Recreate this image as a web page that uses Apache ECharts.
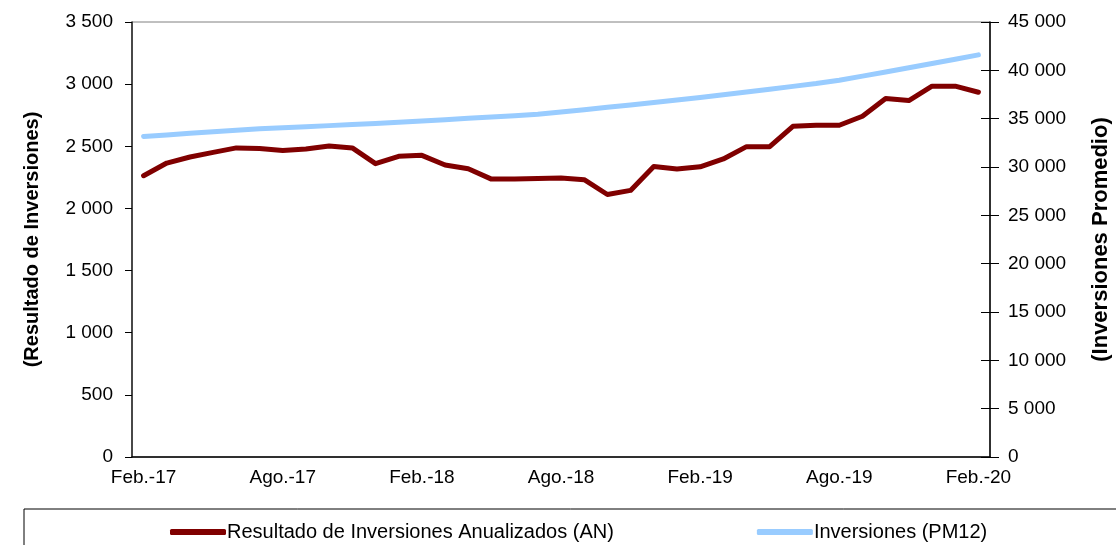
<!DOCTYPE html>
<html>
<head>
<meta charset="utf-8">
<script src="https://cdn.jsdelivr.net/npm/echarts@6/dist/echarts.min.js"></script>
<style>
  html, body { margin: 0; padding: 0; background: #fff; }
  #chart { width: 1116px; height: 545px; }
</style>
</head>
<body>
<div id="chart"></div>
<script>
// meses (Feb.-17 .. Feb.-20)
var categories = [
  'Feb.-17', 'Mar.-17', 'Abr.-17', 'May.-17', 'Jun.-17', 'Jul.-17', 'Ago.-17', 'Sep.-17', 'Oct.-17', 'Nov.-17', 'Dic.-17', 'Ene.-18',
  'Feb.-18', 'Mar.-18', 'Abr.-18', 'May.-18', 'Jun.-18', 'Jul.-18', 'Ago.-18', 'Sep.-18', 'Oct.-18', 'Nov.-18', 'Dic.-18', 'Ene.-19',
  'Feb.-19', 'Mar.-19', 'Abr.-19', 'May.-19', 'Jun.-19', 'Jul.-19', 'Ago.-19', 'Sep.-19', 'Oct.-19', 'Nov.-19', 'Dic.-19', 'Ene.-20',
  'Feb.-20'
]
// Resultado de Inversiones Anualizados (AN) - eje izquierdo
var resultadoAN = [
  2263, 2365, 2414, 2451, 2487, 2483, 2467, 2478, 2503, 2487, 2360, 2419,
  2427, 2349, 2320, 2236, 2236, 2241, 2244, 2231, 2112, 2145, 2338, 2317,
  2335, 2398, 2497, 2497, 2661, 2669, 2669, 2742, 2884, 2868, 2984, 2984,
  2935
]
// Inversiones (PM12) - eje derecho
var inversionesPM12 = [
  33160, 33320, 33480, 33640, 33800, 33950, 34060, 34170, 34280, 34400, 34510, 34630,
  34760, 34900, 35040, 35180, 35310, 35450, 35680, 35920, 36170, 36420, 36670, 36920,
  37180, 37470, 37760, 38050, 38340, 38630, 38980, 39400, 39830, 40260, 40700, 41140,
  41600
]
var leftTicks = { min: 0, max: 3500, interval: 500 }
var rightTicks = { min: 0, max: 45000, interval: 5000 }

var sans = "'Liberation Sans', Arial, sans-serif"

function miles(v) {
  return String(v).replace(/\B(?=(\d{3})+(?!\d))/g, ' ')
}

var myChart = echarts.init(document.getElementById('chart'), null, { renderer: 'canvas' })

var option = {
  animation: false,
  backgroundColor: '#fff',
  grid: {
    left: 132,
    right: 126,
    top: 22,
    bottom: 88,
    containLabel: false,
    outerBoundsMode: 'none',
    show: true,
    borderColor: '#808080',
    borderWidth: 1
  },
  legend: {
    left: 165,
    top: 517,
    itemGap: 143,
    itemWidth: 56,
    itemHeight: 6,
    icon: 'roundRect',
    textStyle: { fontFamily: sans, fontSize: 20, color: '#000', padding: [0, 0, 0, -4] },
    data: ['Resultado de Inversiones Anualizados (AN)', 'Inversiones (PM12)']
  },
  graphic: [{
    type: 'rect',
    shape: { x: 24, y: 509, width: 1120, height: 60 },
    style: { fill: 'none', stroke: '#000', lineWidth: 1 },
    silent: true
  }],
  xAxis: {
    type: 'category',
    boundaryGap: true,
    data: categories,
    axisLine: { lineStyle: { color: '#000', width: 1.5 } },
    axisTick: { interval: 5, length: 7, lineStyle: { color: '#000' } },
    axisLabel: { interval: 5, margin: 11, fontFamily: sans, fontSize: 19, color: '#000' },
    splitLine: { show: false }
  },
  yAxis: [
    {
      type: 'value',
      position: 'left',
      min: leftTicks.min,
      max: leftTicks.max,
      interval: leftTicks.interval,
      name: '(Resultado de Inversiones)',
      nameLocation: 'middle',
      nameRotate: 90,
      nameGap: 90,
      nameTextStyle: { fontFamily: sans, fontWeight: 'bold', fontSize: 20, color: '#000' },
      axisLine: { show: true, lineStyle: { color: '#202020', width: 1.5 } },
      axisTick: { show: true, length: 7, lineStyle: { color: '#000' } },
      axisLabel: { margin: 19, fontFamily: sans, fontSize: 19, color: '#000', formatter: miles },
      splitLine: { show: false }
    },
    {
      type: 'value',
      position: 'right',
      min: rightTicks.min,
      max: rightTicks.max,
      interval: rightTicks.interval,
      name: '(Inversiones Promedio)',
      nameLocation: 'middle',
      nameRotate: 90,
      nameGap: 100,
      nameTextStyle: { fontFamily: sans, fontWeight: 'bold', fontSize: 22, color: '#000' },
      axisLine: { show: true, lineStyle: { color: '#000', width: 1.5 } },
      axisTick: { show: true, length: 9, lineStyle: { color: '#000' } },
      axisLabel: { margin: 18, fontFamily: sans, fontSize: 19, color: '#000', formatter: miles },
      splitLine: { show: false }
    },
    {
      // same scale, only the inner half of the crossing ticks
      type: 'value',
      position: 'right',
      min: rightTicks.min,
      max: rightTicks.max,
      interval: rightTicks.interval,
      axisLine: { show: false },
      axisTick: { show: true, inside: true, length: 9, lineStyle: { color: '#000' } },
      axisLabel: { show: false },
      splitLine: { show: false }
    }
  ],
  series: [
    {
      name: 'Inversiones (PM12)',
      type: 'line',
      yAxisIndex: 1,
      data: inversionesPM12,
      showSymbol: false,
      symbol: 'none',
      lineStyle: { color: '#99CCFF', width: 5, cap: 'round', join: 'round' },
      itemStyle: { color: '#99CCFF' },
      z: 2
    },
    {
      name: 'Resultado de Inversiones Anualizados (AN)',
      type: 'line',
      yAxisIndex: 0,
      data: resultadoAN,
      showSymbol: false,
      symbol: 'none',
      lineStyle: { color: '#800000', width: 5, cap: 'round', join: 'round' },
      itemStyle: { color: '#800000' },
      z: 3
    }
  ]
}
myChart.setOption(option)
</script>
</body>
</html>
